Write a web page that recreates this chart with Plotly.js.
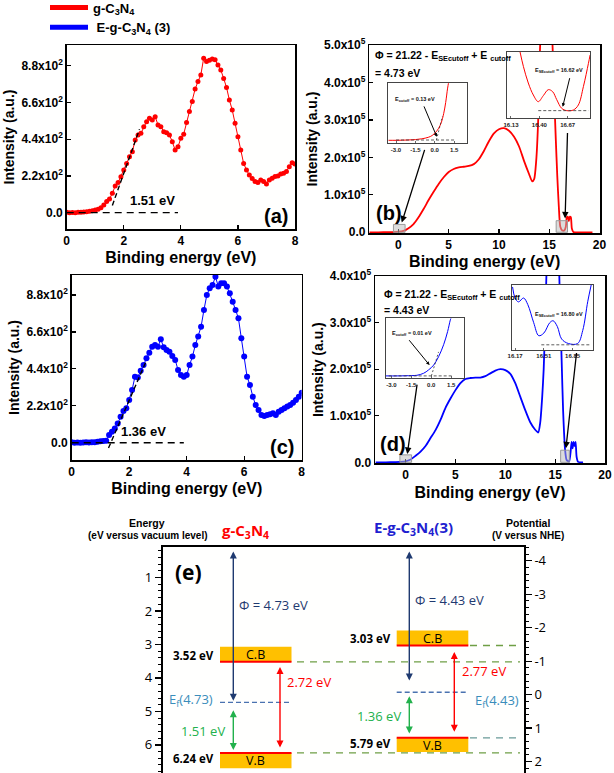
<!DOCTYPE html>
<html>
<head>
<meta charset="utf-8">
<script src="https://cdn.plot.ly/plotly-3.0.1.min.js"></script>
<style>html,body{margin:0;padding:0;background:#fff}#chart{width:614px;height:773px}</style>
</head>
<body>
<div id="chart"></div>
<script>
// ---------------- DATA ----------------
// (a)/(c) valence-band XPS (binding energy eV, intensity a.u.)
const vbX = [0.0,0.1,0.2,0.3,0.4,0.5,0.6,0.7,0.8,0.9,1.0,1.1,1.2,1.3,1.4,1.5,1.6,1.7,1.8,1.9,2.0,2.1,2.2,2.3,2.4,2.5,2.6,2.7,2.8,2.9,3.0,3.1,3.2,3.3,3.4,3.5,3.6,3.7,3.8,3.9,4.0,4.1,4.2,4.3,4.4,4.5,4.6,4.7,4.8,4.9,5.0,5.1,5.2,5.3,5.4,5.5,5.6,5.7,5.8,5.9,6.0,6.1,6.2,6.3,6.4,6.5,6.6,6.7,6.8,6.9,7.0,7.1,7.2,7.3,7.4,7.5,7.6,7.7,7.8,7.9,8.0];
const vbG = [2,0,1,0,2,3,4,6,8,12,16,20,30,46,66,82,116,160,180,215,255,295,335,365,435,465,475,515,545,565,555,575,525,515,485,479,465,425,375,395,445,470,540,605,665,740,785,825,925,905,912,920,915,884,854,804,750,675,615,535,455,375,295,255,225,205,186,180,196,186,172,196,206,216,220,232,236,246,275,299,291];
const vbE = [2,0,1,0,1,2,1,2,3,5,8,10,12,46,66,85,115,155,189,205,254,314,393,389,429,463,503,536,572,582,572,616,568,552,542,516,493,433,403,393,403,463,513,582,632,691,791,880,920,940,989,930,950,950,930,890,840,791,741,622,513,393,344,274,224,195,165,159,165,169,175,165,185,195,205,215,224,238,254,274,298];
const vbOnset = [1.51, 1.36];       // eV, from linear extrapolation
const vbSlope = [480, 395];         // slope of the extrapolated line (a.u./eV)
const vbTicks = [0, 220, 440, 660, 880];
const vbTickText = ['0.0','2.2x10<sup>2</sup>','4.4x10<sup>2</sup>','6.6x10<sup>2</sup>','8.8x10<sup>2</sup>'];

// (b) UPS g-C3N4
const upsGX = [-2.9,-2,-1,-0.5,0,0.5,1,1.5,2,2.5,3,3.5,4,4.5,5,5.5,6,6.5,7,7.5,8,8.5,9,9.5,10,10.5,11,11.5,12,12.5,13,13.3,13.5,13.7,13.9,14.0,14.2,14.6,15.0,15.3,15.5,15.65,15.8,15.95,16.1,16.3,16.5,16.65,16.75,16.85,16.95,17.05,17.15,17.25,17.4,18,19.3];
const upsGY = [0,0,200,600,1500,4000,11000,22000,40000,62000,86000,108000,129000,147000,161000,169000,173000,175000,177000,182000,195000,217000,243000,264000,275000,278000,271000,255000,229000,190000,155000,136000,142000,190000,300000,420000,560000,650000,640000,520000,360000,250000,150000,70000,15000,5000,5000,15000,40000,42000,30000,42000,40000,10000,1000,0,0];
// (d) UPS E-g-C3N4(3)
const upsEX = [-3,-2,-1,-0.5,0,0.5,1,1.5,2,2.5,3,3.5,4,4.5,5,5.5,6,6.5,7,7.5,8,8.5,9,9.5,10,10.5,11,11.5,12,12.5,13,13.3,13.5,13.7,13.85,14.0,14.2,14.6,15.0,15.3,15.5,15.65,15.8,16.0,16.15,16.4,16.55,16.65,16.75,16.85,16.95,17.05,17.15,17.3,17.8];
const upsEY = [0,0,300,800,2000,6000,14000,23000,35000,52000,69000,91000,117000,137000,155000,170000,179000,181000,182000,182000,185000,191000,197000,200000,198000,190000,170000,141000,112000,86000,70000,64000,85000,140000,200000,300000,450000,560000,560000,480000,330000,220000,110000,26000,5000,1500,22000,44000,30000,44000,35000,44000,12000,1000,0];
const upsGTicks = [0,1e5,2e5,3e5,4e5,5e5];
const upsGTickText = ['0.0','1.0x10<sup>5</sup>','2.0x10<sup>5</sup>','3.0x10<sup>5</sup>','4.0x10<sup>5</sup>','5.0x10<sup>5</sup>'];
const upsETicks = [0,1e5,2e5,3e5,4e5];
const upsETickText = ['0.0','1.0x10<sup>5</sup>','2.0x10<sup>5</sup>','3.0x10<sup>5</sup>','4.0x10<sup>5</sup>'];

// insets (normalised intensity)
const cutGX = [-3.6,-3.0,-2.5,-2.0,-1.5,-1.0,-0.5,-0.2,0.1,0.3,0.5,0.7,0.85,1.0,1.08];
const cutGY = [0.05,0.05,0.052,0.056,0.062,0.075,0.1,0.13,0.19,0.25,0.34,0.5,0.68,0.92,1.02];
const secGX = [16.216,16.248,16.295,16.343,16.39,16.438,16.486,16.527,16.566,16.613,16.661,16.725,16.772,16.82,16.868,16.884];
const secGY = [1.0,0.78,0.53,0.35,0.25,0.34,0.43,0.40,0.28,0.15,0.115,0.125,0.2,0.475,0.825,0.95];
const cutEX = [-3.4,-2.5,-1.5,-1.08,-0.58,-0.2,0.18,0.55,0.93,1.23,1.43,1.48];
const cutEY = [0.04,0.04,0.045,0.05,0.083,0.14,0.22,0.36,0.56,0.78,0.97,1.0];
const secEX = [16.14,16.17,16.21,16.27,16.32,16.39,16.45,16.51,16.58,16.62,16.67,16.72,16.80,16.91,16.97,17.03,17.07];
const secEY = [0.97,0.80,0.74,0.80,0.70,0.42,0.22,0.26,0.42,0.45,0.36,0.17,0.10,0.10,0.30,0.75,1.0];
const eCutoff = [0.13, 0.01];
const eSECutoff = [16.62, 16.80];
const workFn = [4.73, 4.43];

// (e) band diagram
const sampleNames = ['g-C<sub>3</sub>N<sub>4</sub>', 'E-g-C<sub>3</sub>N<sub>4</sub>(3)'];
const cbEnergy = [3.52, 3.03];
const vbEnergy = [6.24, 5.79];
const fermiEnergy = [4.73, 4.43];
const bandGap = [2.72, 2.77];
const vbMinusEf = [1.51, 1.36];
const nheOffset = 4.5;   // E(vacuum) = -(V_NHE + 4.5)

// ---------------- LAYOUT HELPERS ----------------
const W = 614, H = 773;
const dX = (a, b) => [a / W, b / W];
const dY = (top, bot) => [1 - bot / H, 1 - top / H];
const PX = x => x / W, PY = y => 1 - y / H;
const ARIAL = 'Liberation Sans, Arial, sans-serif';
const CAL = 'Open Sans, Noto Sans, sans-serif';
const RED = '#ff0000', BLUE = '#0000ff';

function mainAx(extra) {
  return Object.assign({
    showline: true, mirror: true, linecolor: '#000', linewidth: 1.5,
    ticks: 'inside', ticklen: 4, tickwidth: 1.2, tickcolor: '#000',
    showgrid: false, zeroline: false, automargin: false,
    tickfont: {family: ARIAL, size: 12, color: '#000', weight: 'bold'}
  }, extra);
}
function xTitle() {
  return {text: 'Binding energy (eV)', font: {family: ARIAL, size: 16, color: '#000', weight: 'bold'}, standoff: 5};
}
function yTitle() {
  return {text: 'Intensity (a.u.)', font: {family: ARIAL, size: 14, color: '#000', weight: 'bold'}, standoff: 3};
}
function insetAx(extra) {
  return Object.assign({
    showline: true, mirror: true, linecolor: '#444', linewidth: 1,
    ticks: 'inside', ticklen: 2, tickwidth: 0.8, tickcolor: '#444',
    showgrid: false, zeroline: false, automargin: false,
    tickfont: {family: ARIAL, size: 6, color: '#222', weight: 'bold'}
  }, extra);
}
function insetY(dom, anchor) {
  return insetAx({domain: dom, anchor: anchor, range: [0, 1], showticklabels: false, ticks: ''});
}

// ---------------- TRACES ----------------
const traces = [];
const fitLine = (i, x0, x1) => [x0, x1].map(x => vbSlope[i] * (x - vbOnset[i]));
// (a)
traces.push({x: vbX, y: vbG, xaxis: 'x', yaxis: 'y', mode: 'lines+markers', showlegend: false,
  line: {color: RED, width: 1}, marker: {color: RED, size: 5}});
traces.push({x: [1.6, 2.55], y: fitLine(0, 1.6, 2.55), xaxis: 'x', yaxis: 'y', mode: 'lines', showlegend: false,
  line: {color: '#000', width: 1.4, dash: '5px,3px'}});
traces.push({x: [0, 3.9], y: [0, 0], xaxis: 'x', yaxis: 'y', mode: 'lines', showlegend: false,
  line: {color: '#000', width: 1.4, dash: '7px,5px'}});
// (c)
traces.push({x: vbX, y: vbE, xaxis: 'x3', yaxis: 'y3', mode: 'lines+markers', showlegend: false,
  line: {color: BLUE, width: 1}, marker: {color: BLUE, size: 6}});
traces.push({x: [1.28, 2.6], y: fitLine(1, 1.28, 2.6), xaxis: 'x3', yaxis: 'y3', mode: 'lines', showlegend: false,
  line: {color: '#000', width: 1.4, dash: '5px,3px'}});
traces.push({x: [0, 3.9], y: [0, 0], xaxis: 'x3', yaxis: 'y3', mode: 'lines', showlegend: false,
  line: {color: '#000', width: 1.4, dash: '7px,5px'}});
// (b),(d)
traces.push({x: upsGX, y: upsGY, xaxis: 'x2', yaxis: 'y2', mode: 'lines', showlegend: false,
  line: {color: RED, width: 1.8, shape: 'spline', smoothing: 0.6}});
traces.push({x: upsEX, y: upsEY, xaxis: 'x4', yaxis: 'y4', mode: 'lines', showlegend: false,
  line: {color: BLUE, width: 1.8, shape: 'spline', smoothing: 0.6}});
// insets
function insetTraces(xa, ya, cx, cy, color, base, baseRange, tan) {
  traces.push({x: cx, y: cy, xaxis: xa, yaxis: ya, mode: 'lines', showlegend: false,
    line: {color: color, width: 1, shape: 'spline'}});
  traces.push({x: baseRange, y: [base, base], xaxis: xa, yaxis: ya, mode: 'lines', showlegend: false,
    line: {color: '#333', width: 0.8, dash: '3px,2px'}});
  if (tan) traces.push({x: tan[0], y: tan[1], xaxis: xa, yaxis: ya, mode: 'lines', showlegend: false,
    line: {color: '#333', width: 0.8, dash: '2px,2px'}});
}
insetTraces('x5', 'y5', cutGX, cutGY, RED, 0.055, [-3.0, 1.6], [[eCutoff[0], 0.6], [0.055, 0.45]]);
insetTraces('x6', 'y6', secGX, secGY, RED, 0.115, [16.39, 16.868], null);
insetTraces('x7', 'y7', cutEX, cutEY, BLUE, 0.04, [-3.2, 1.68], [[eCutoff[1], 0.55], [0.04, 0.44]]);
insetTraces('x8', 'y8', secEX, secEY, BLUE, 0.08, [16.48, 17.05], null);
// axis carriers for (e)
traces.push({x: [null], y: [null], xaxis: 'x9', yaxis: 'y9', mode: 'none', showlegend: false, hoverinfo: 'skip'});
traces.push({x: [null], y: [null], xaxis: 'x9', yaxis: 'y10', mode: 'none', showlegend: false, hoverinfo: 'skip'});
// legend entries
traces.push({x: [null], y: [null], xaxis: 'x', yaxis: 'y', mode: 'lines', name: sampleNames[0],
  line: {color: RED, width: 5}});
traces.push({x: [null], y: [null], xaxis: 'x', yaxis: 'y', mode: 'lines', name: ' ' + sampleNames[1].replace('(3)', ' (3)'),
  line: {color: BLUE, width: 5}});

// ---------------- SHAPES & ANNOTATIONS ----------------
const shapes = [];
const ann = [];
const txt = (o) => Object.assign({showarrow: false, xanchor: 'center', yanchor: 'middle'}, o);
const fB = (size, color) => ({family: ARIAL, size: size, color: color || '#000', weight: 'bold'});

// (a),(c) labels
ann.push(txt({xref: 'x', yref: 'y', x: 3.0, y: 70, text: vbOnset[0].toFixed(2) + ' eV', font: fB(13)}));
ann.push(txt({xref: 'x', yref: 'y', x: 7.34, y: -20, text: '(a)', font: fB(20)}));
ann.push(txt({xref: 'x3', yref: 'y3', x: 2.49, y: 66, text: vbOnset[1].toFixed(2) + ' eV', font: fB(13)}));
ann.push(txt({xref: 'x3', yref: 'y3', x: 7.3, y: -24, text: '(c)', font: fB(20)}));

// (b),(d) labels
ann.push(txt({xref: 'x2', yref: 'y2', x: -0.9, y: 51000, text: '(b)', font: fB(20)}));
ann.push(txt({xref: 'x4', yref: 'y4', x: -1.3, y: 39000, text: '(d)', font: fB(20)}));
const phiText = '\u03A6 = 21.22 - E<sub>SEcutoff</sub> + E <sub>cutoff</sub>';
ann.push(txt({xref: 'x2', yref: 'y2', x: -2.5, y: 470000, xanchor: 'left', text: phiText, font: fB(10.5)}));
ann.push(txt({xref: 'x2', yref: 'y2', x: -2.5, y: 426000, xanchor: 'left', text: '= ' + workFn[0].toFixed(2) + ' eV', font: fB(10.5)}));
ann.push(txt({xref: 'x4', yref: 'y4', x: -2.41, y: 359000, xanchor: 'left', text: phiText, font: fB(10.5)}));
ann.push(txt({xref: 'x4', yref: 'y4', x: -2.41, y: 326000, xanchor: 'left', text: '= ' + workFn[1].toFixed(2) + ' eV', font: fB(10.5)}));

// gray zoom boxes
const box = (xr, yr, x0, x1, y1) => ({type: 'rect', xref: xr, yref: yr, x0: x0, x1: x1, y0: 0, y1: y1,
  fillcolor: 'rgba(185,185,185,0.5)', line: {color: '#9a9a9a', width: 1}, layer: 'above'});
shapes.push(box('x2', 'y2', -0.5, 0.66, 21000));
shapes.push(box('x2', 'y2', 15.69, 16.82, 31000));
shapes.push(box('x4', 'y4', -0.57, 0.6, 16000));
shapes.push(box('x4', 'y4', 15.55, 16.42, 26000));

const arrow = (xr, yr, x, y, ax, ay, w, s) => ({xref: xr, yref: yr, axref: xr, ayref: yr, x: x, y: y, ax: ax, ay: ay,
  text: '', showarrow: true, arrowhead: 2, arrowsize: s || 1, arrowwidth: w || 1.3, arrowcolor: '#000', standoff: 0});
ann.push(arrow('x2', 'y2', 0.33, 26000, 2.65, 224000));
ann.push(arrow('x2', 'y2', 16.58, 37000, 16.82, 269000));
ann.push(arrow('x4', 'y4', 0.17, 17900, 1.17, 170000));
ann.push(arrow('x4', 'y4', 16.08, 30000, 17.16, 238000));
// inset texts / arrows
ann.push(txt({xref: 'x5', yref: 'y5', x: -3.2, y: 0.73, xanchor: 'left', text: 'E<sub>cutoff</sub> = ' + eCutoff[0].toFixed(2) + ' eV', font: fB(5.5, '#111')}));
ann.push(arrow('x5', 'y5', 0.16, 0.11, -0.88, 0.64, 1, 0.7));
ann.push(txt({xref: 'x6', yref: 'y6', x: 16.343, y: 0.715, xanchor: 'left', text: 'E<sub>SEcutoff</sub> = ' + eSECutoff[0].toFixed(2) + ' eV', font: fB(5.5, '#111')}));
ann.push(arrow('x6', 'y6', 16.623, 0.175, 16.693, 0.625, 1, 0.7));
ann.push(txt({xref: 'x7', yref: 'y7', x: -3.1, y: 0.75, xanchor: 'left', text: 'E<sub>cutoff</sub> = ' + eCutoff[1].toFixed(2) + ' eV', font: fB(5.5, '#111')}));
ann.push(arrow('x7', 'y7', -0.13, 0.22, -1.75, 0.66, 1, 0.7));
ann.push(txt({xref: 'x8', yref: 'y8', x: 16.386, y: 0.55, xanchor: 'left', text: 'E<sub>SEcutoff</sub> = ' + eSECutoff[1].toFixed(2) + ' eV', font: fB(5.5, '#111')}));

// (e) band diagram
const cols = [
  {bl: 220, br: 291.5, ax: 233.3, rx: 280, phiY: 1.83, efLab: {x: 215, y: 4.65, anchor: 'right'}, gLab: {x: 226.7, y: 5.58}, rLab: {x: 285, y: 4.13}, phiEnd: 4.68, gStart: 4.92, gEnd: 6.15, rStart: 3.63, rEnd: 6.08, vbH: 0.46},
  {bl: 396.7, br: 468.3, ax: 409.3, rx: 454.3, phiY: 1.66, efLab: {x: 473.3, y: 4.70, anchor: 'left'}, gLab: {x: 403.3, y: 5.13}, rLab: {x: 459.7, y: 3.78}, phiEnd: 4.08, gStart: 4.5, gEnd: 5.66, rStart: 3.18, rEnd: 5.61, vbH: 0.42}
];
const NAVY = '#1f3a70', GOLD = '#ffc000', GREEN = '#22b14c', EFC = '#3a8dbb', EFL = '#4a72b0', OLIVE = '#6f9f45';
const calF = (size, color, bold) => ({family: CAL, size: size, color: color, weight: bold ? 'bold' : 'normal'});
const dbl = (x, y0, y1, color) => ({xref: 'x9', yref: 'y9', axref: 'x9', ayref: 'y9', x: x, y: y1, ax: x, ay: y0,
  text: '', showarrow: true, arrowhead: 2, startarrowhead: 2, arrowside: 'end+start', arrowsize: 1, startarrowsize: 1,
  arrowwidth: 1.4, arrowcolor: color, standoff: 0, startstandoff: 0});

cols.forEach((c, i) => {
  // boxes
  shapes.push({type: 'rect', xref: 'x9', yref: 'y9', x0: c.bl, x1: c.br, y0: cbEnergy[i] - 0.45, y1: cbEnergy[i], fillcolor: GOLD, line: {width: 0}});
  shapes.push({type: 'rect', xref: 'x9', yref: 'y9', x0: c.bl, x1: c.br, y0: vbEnergy[i], y1: vbEnergy[i] + c.vbH, fillcolor: GOLD, line: {width: 0}});
  shapes.push({type: 'line', xref: 'x9', yref: 'y9', x0: c.bl, x1: c.br, y0: cbEnergy[i], y1: cbEnergy[i], line: {color: RED, width: 2}});
  shapes.push({type: 'line', xref: 'x9', yref: 'y9', x0: c.bl, x1: c.br, y0: vbEnergy[i], y1: vbEnergy[i], line: {color: RED, width: 2}});
  shapes.push({type: 'line', xref: 'x9', yref: 'y9', x0: c.bl, x1: c.br, y0: fermiEnergy[i], y1: fermiEnergy[i], line: {color: EFL, width: 1.4, dash: '5px,3px'}});
  // arrows
  ann.push(dbl(c.ax, 0.18, c.phiEnd, NAVY));
  ann.push(dbl(c.ax, c.gStart, c.gEnd, GREEN));
  ann.push(dbl(c.rx, c.rStart, c.rEnd, RED));
  // labels
  ann.push(txt({xref: 'x9', yref: 'y9', x: (c.bl + c.br) / 2, y: cbEnergy[i] - 0.22, text: 'C.B', font: calF(12.5, '#000')}));
  ann.push(txt({xref: 'x9', yref: 'y9', x: (c.bl + c.br) / 2, y: vbEnergy[i] + 0.22, text: 'V.B', font: calF(12.5, '#000')}));
  ann.push(txt({xref: 'x9', yref: 'y9', x: c.bl - 4, y: cbEnergy[i] - 0.2, xanchor: 'right', text: cbEnergy[i].toFixed(2) + ' eV', font: calF(11.5, '#000', true)}));
  ann.push(txt({xref: 'x9', yref: 'y9', x: c.bl - 4, y: vbEnergy[i] + 0.17, xanchor: 'right', text: vbEnergy[i].toFixed(2) + ' eV', font: calF(11.5, '#000', true)}));
  ann.push(txt({xref: 'x9', yref: 'y9', x: c.ax + 4, y: c.phiY, xanchor: 'left', text: '\u03A6 = ' + workFn[i].toFixed(2) + ' eV', font: calF(13, NAVY)}));
  ann.push(txt({xref: 'x9', yref: 'y9', x: c.efLab.x, y: c.efLab.y, xanchor: c.efLab.anchor, text: 'E<sub>f</sub>(' + fermiEnergy[i].toFixed(2) + ')', font: calF(13, EFC)}));
  ann.push(txt({xref: 'x9', yref: 'y9', x: c.gLab.x, y: c.gLab.y, xanchor: 'right', text: vbMinusEf[i].toFixed(2) + ' eV', font: calF(13, GREEN)}));
  ann.push(txt({xref: 'x9', yref: 'y9', x: c.rLab.x, y: c.rLab.y, xanchor: 'left', text: bandGap[i].toFixed(2) + ' eV', font: calF(13, RED)}));
});
// connector dashed lines to the NHE axis
shapes.push({type: 'line', xref: 'x9', yref: 'y9', x0: 297, x1: 520, y0: cbEnergy[0], y1: cbEnergy[0], line: {color: OLIVE, width: 1.4, dash: '7px,6px'}});
shapes.push({type: 'line', xref: 'x9', yref: 'y9', x0: 297, x1: 520, y0: vbEnergy[0], y1: vbEnergy[0], line: {color: OLIVE, width: 1.4, dash: '7px,6px'}});
shapes.push({type: 'line', xref: 'x9', yref: 'y9', x0: 470, x1: 520, y0: cbEnergy[1], y1: cbEnergy[1], line: {color: OLIVE, width: 1.4, dash: '7px,6px'}});
shapes.push({type: 'line', xref: 'x9', yref: 'y9', x0: 470, x1: 522, y0: vbEnergy[1], y1: vbEnergy[1], line: {color: '#6a9a98', width: 1.4, dash: '7px,6px'}});
// (e) headings
ann.push(txt({xref: 'paper', yref: 'paper', x: PX(147), y: PY(522.7), text: 'Energy', font: fB(10.5)}));
ann.push(txt({xref: 'paper', yref: 'paper', x: PX(148), y: PY(535.5), text: '(eV versus vacuum level)', font: fB(10)}));
ann.push(txt({xref: 'paper', yref: 'paper', x: PX(527.7), y: PY(522.7), text: 'Potential', font: fB(10.5)}));
ann.push(txt({xref: 'paper', yref: 'paper', x: PX(527.7), y: PY(535.5), text: '(V versus NHE)', font: fB(10)}));
ann.push(txt({xref: 'paper', yref: 'paper', x: PX(245), y: PY(531), text: sampleNames[0], font: calF(15, RED, true)}));
ann.push(txt({xref: 'paper', yref: 'paper', x: PX(413), y: PY(528), text: sampleNames[1], font: calF(15, '#1f1fd0', true)}));
ann.push(txt({xref: 'x9', yref: 'y9', x: 188, y: 0.85, text: '(e)', font: calF(21, '#000', true)}));

// ---------------- LAYOUT ----------------
const eRange = [6.84, 0.08];
const layout = {
  width: W, height: H, margin: {l: 0, r: 0, t: 0, b: 0, autoexpand: false}, autosize: false,
  // plot background differs by a hair from the paper so inset panels get their own opaque background
  paper_bgcolor: '#ffffff', plot_bgcolor: '#fffffe', hovermode: false,
  font: {family: ARIAL, color: '#000'},
  showlegend: true,
  legend: {x: PX(45), y: PY(-7.5), xanchor: 'left', yanchor: 'top', itemwidth: 38, tracegroupgap: 0,
    font: {family: ARIAL, size: 13, color: '#000', weight: 'bold'}, bgcolor: 'rgba(0,0,0,0)'},
  // (a)
  xaxis: mainAx({domain: dX(66.7, 295), anchor: 'y', range: [0, 8], dtick: 2, tick0: 0, title: xTitle()}),
  yaxis: mainAx({domain: dY(45, 229), anchor: 'x', range: [-98, 1004], tickvals: vbTicks, ticktext: vbTickText, title: yTitle()}),
  // (b)
  xaxis2: mainAx({domain: dX(369.3, 600), anchor: 'y2', range: [-2.9, 20.05], tickvals: [0, 5, 10, 15, 20], title: xTitle()}),
  yaxis2: mainAx({domain: dY(45, 233), anchor: 'x2', range: [-1900, 500000], tickvals: upsGTicks, ticktext: upsGTickText, title: yTitle()}),
  // (c)
  xaxis3: mainAx({domain: dX(71.7, 301.7), anchor: 'y3', range: [0, 8], dtick: 2, tick0: 0, title: xTitle()}),
  yaxis3: mainAx({domain: dY(275, 460), anchor: 'x3', range: [-103, 999], tickvals: vbTicks, ticktext: vbTickText, title: yTitle()}),
  // (d)
  xaxis4: mainAx({domain: dX(375, 605), anchor: 'y4', range: [-3.07, 20], tickvals: [0, 5, 10, 15, 20], title: xTitle()}),
  yaxis4: mainAx({domain: dY(276, 463.3), anchor: 'x4', range: [-2100, 400000], tickvals: upsETicks, ticktext: upsETickText, title: yTitle()}),
  // insets
  xaxis5: insetAx({domain: dX(388.3, 466.7), anchor: 'y5', range: [-3.6, 2.48], tickvals: [-3, -1.5, 0, 1.5], ticktext: ['-3.0', '-1.5', '0.0', '1.5']}),
  yaxis5: insetY(dY(83.3, 143.3), 'x5'),
  xaxis6: insetAx({domain: dX(507.3, 590), anchor: 'y6', range: [16.095, 16.883], tickvals: [16.13, 16.40, 16.67], ticktext: ['16.13', '16.40', '16.67']}),
  yaxis6: insetY(dY(51.7, 118.3), 'x6'),
  xaxis7: insetAx({domain: dX(386, 464), anchor: 'y7', range: [-3.40, 2.46], tickvals: [-3, -1.5, 0, 1.5], ticktext: ['-3.0', '-1.5', '0.0', '1.5']}),
  yaxis7: insetY(dY(318.3, 378.3), 'x7'),
  xaxis8: insetAx({domain: dX(511.7, 593.3), anchor: 'y8', range: [16.13, 17.095], tickvals: [16.17, 16.51, 16.85], ticktext: ['16.17', '16.51', '16.85']}),
  yaxis8: insetY(dY(285, 350), 'x8'),
  // (e)
  xaxis9: {domain: dX(162.7, 524), anchor: 'y9', range: [162.7, 524], side: 'top', showline: true, linecolor: '#000', linewidth: 1.5,
    ticks: '', showticklabels: false, showgrid: false, zeroline: false, automargin: false},
  yaxis9: {domain: dY(546.7, 773), anchor: 'x9', side: 'left', range: eRange, showline: true, linecolor: '#000', linewidth: 1.8,
    ticks: 'outside', ticklen: 6, tickwidth: 1.3, tickcolor: '#000', tickvals: [1, 2, 3, 4, 5, 6],
    minor: {ticks: 'outside', ticklen: 3, dtick: 0.2, tick0: 0, tickwidth: 1, tickcolor: '#000'},
    tickfont: {family: CAL, size: 13, color: '#000'}, showgrid: false, zeroline: false, automargin: false},
  yaxis10: {overlaying: 'y9', anchor: 'x9', side: 'right', range: eRange.map(e => e - nheOffset), showline: true, linecolor: '#000', linewidth: 1.8,
    ticks: 'outside', ticklen: 6, tickwidth: 1.3, tickcolor: '#000', tickvals: [-4, -3, -2, -1, 0, 1, 2], ticktext: ['-4', '-3', '-2', '-1', '0', '1', '2'],
    minor: {ticks: 'outside', ticklen: 3, dtick: 0.2, tick0: 0, tickwidth: 1, tickcolor: '#000'},
    tickfont: {family: CAL, size: 13, color: '#000'}, showgrid: false, zeroline: false, automargin: false},
  shapes: shapes,
  annotations: ann
};

Plotly.newPlot('chart', traces, layout, {staticPlot: true, displayModeBar: false});
</script>
</body>
</html>
